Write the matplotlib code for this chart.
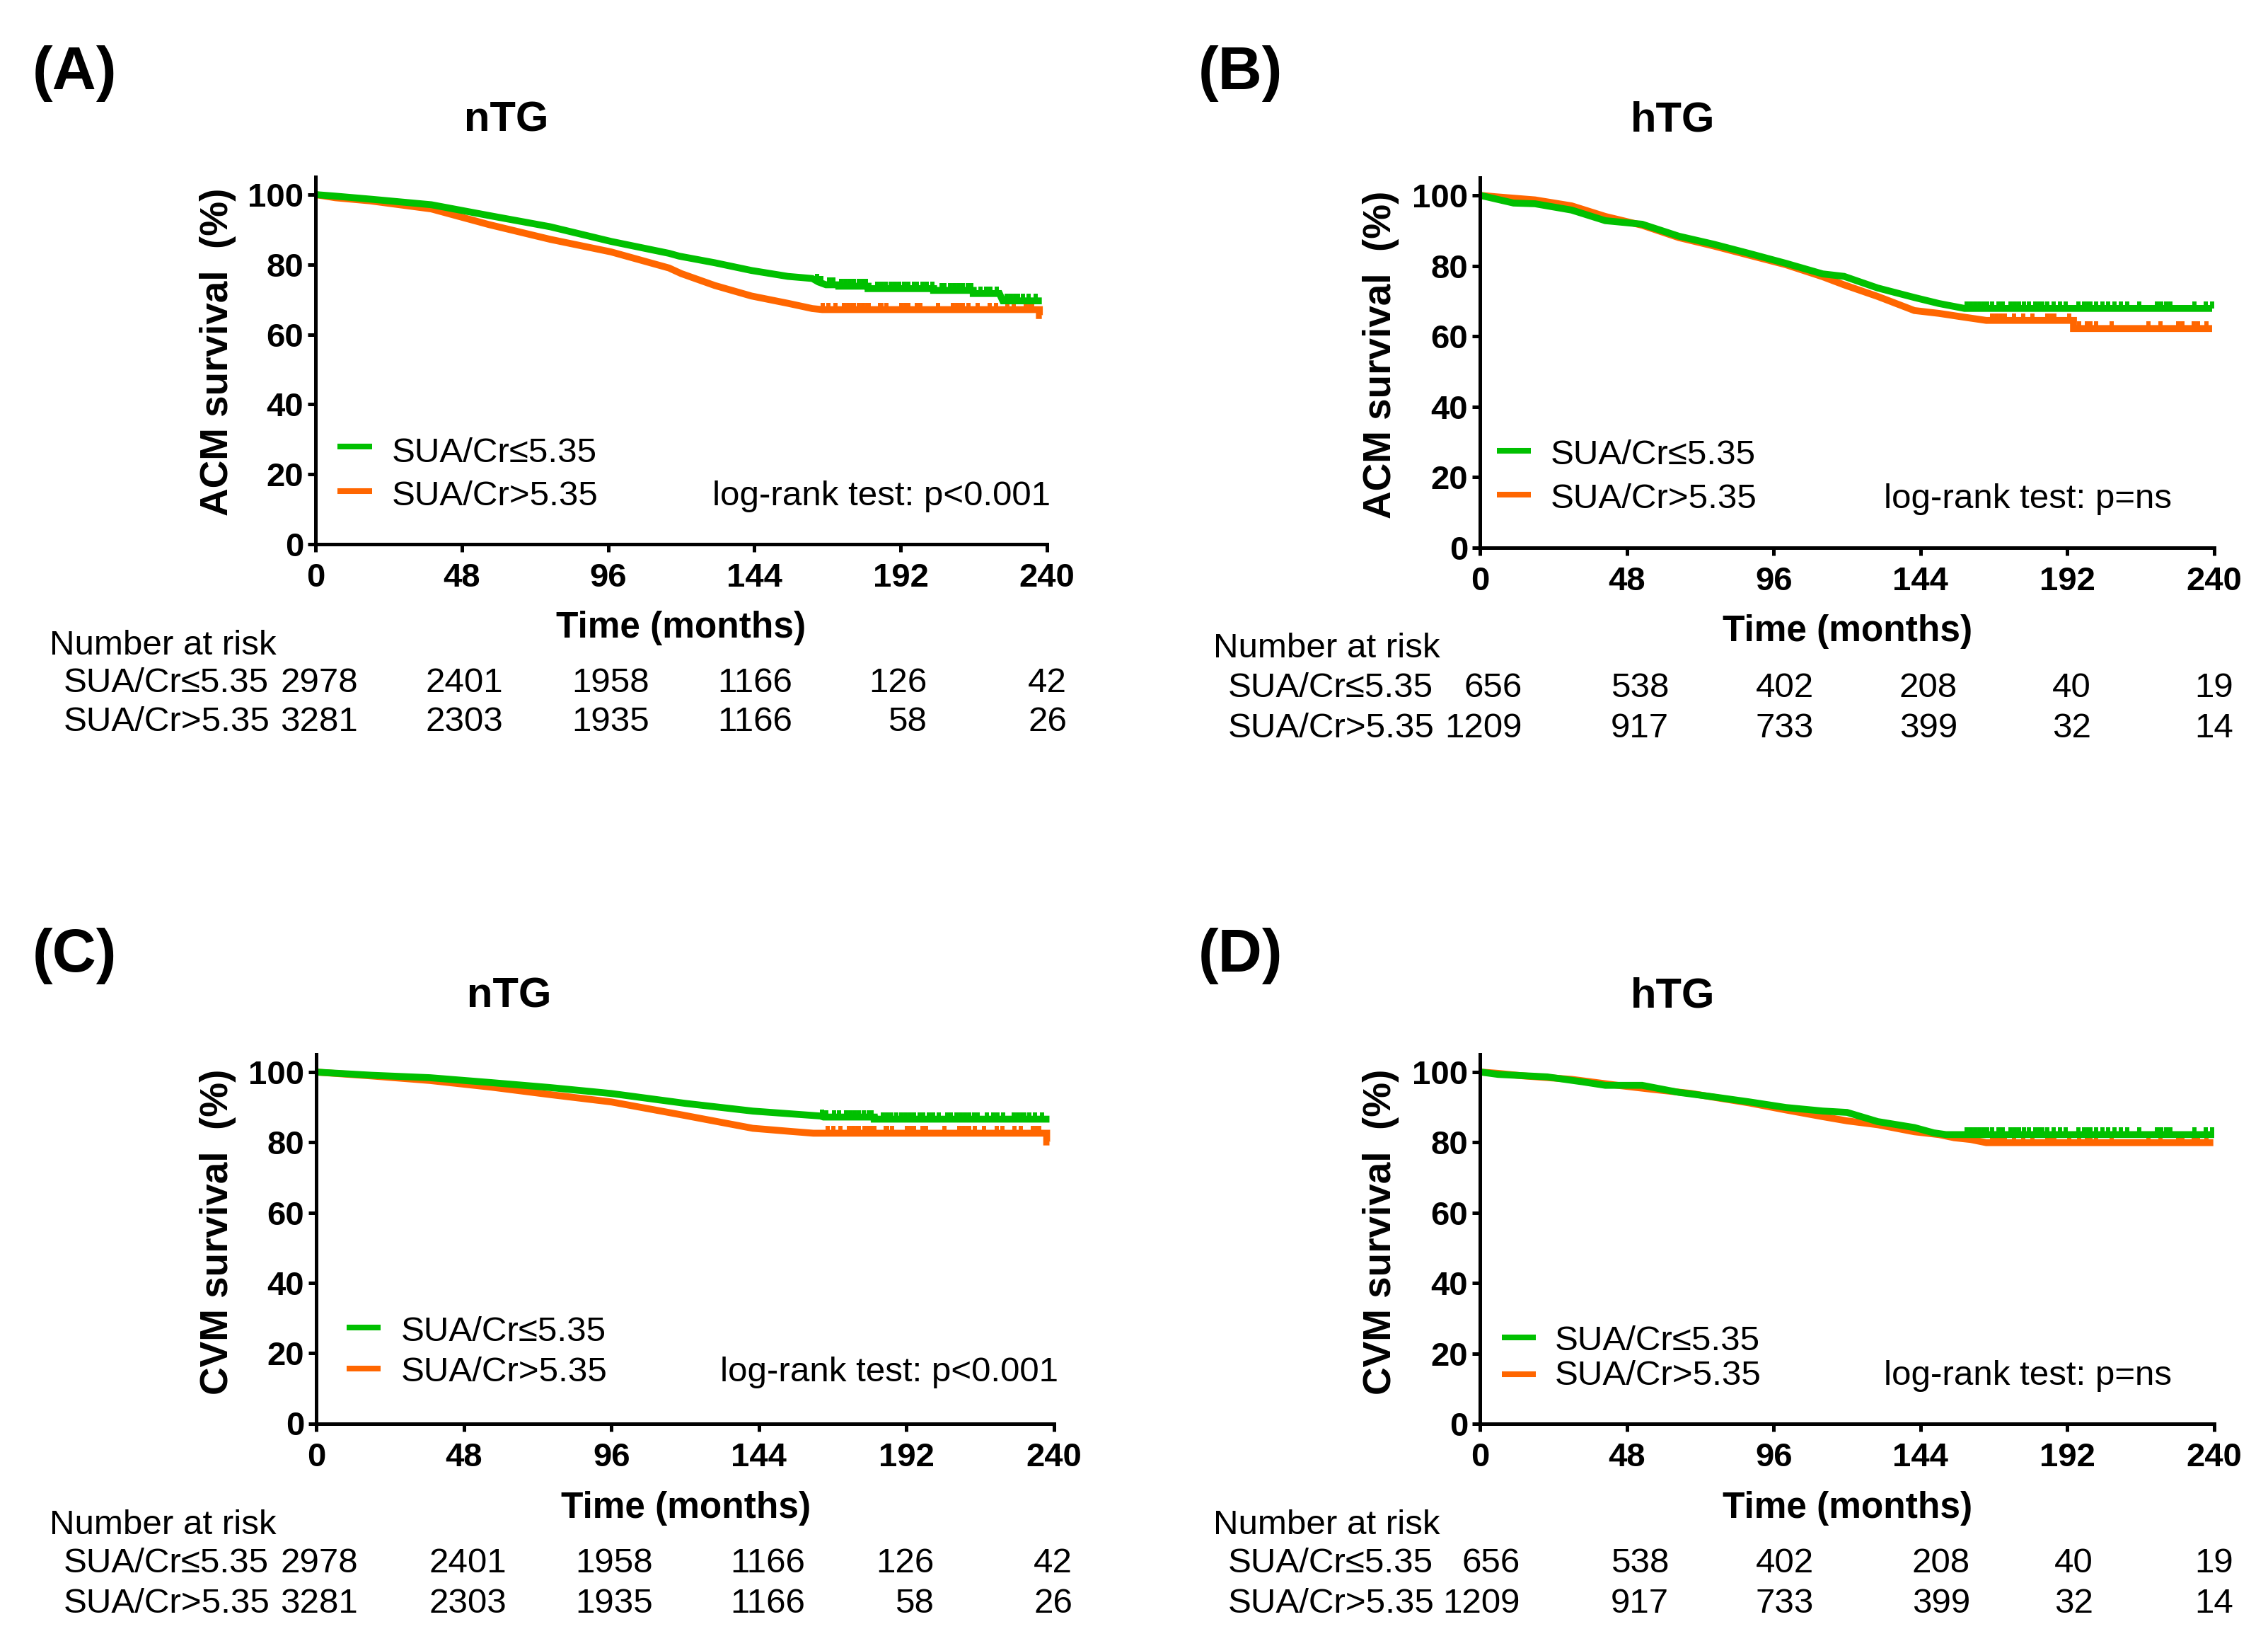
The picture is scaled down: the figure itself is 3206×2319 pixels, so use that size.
import matplotlib
matplotlib.use("Agg")
import numpy as np
import matplotlib.pyplot as plt
from matplotlib.lines import Line2D

W, H, DPI = 3206, 2319, 100
plt.rcParams['font.family'] = ['Liberation Sans', 'DejaVu Sans']

GREEN = '#00C000'
ORANGE = '#FF6600'

# ---------------- data ----------------
group_labels = ['SUA/Cr\u22645.35', 'SUA/Cr>5.35']
panel_letters = ['(A)', '(B)', '(C)', '(D)']
panel_titles = ['nTG', 'hTG', 'nTG', 'hTG']
y_labels = ['ACM survival  (%)', 'ACM survival  (%)', 'CVM survival  (%)', 'CVM survival  (%)']
logrank_texts = ['log-rank test: p<0.001', 'log-rank test: p=ns',
                 'log-rank test: p<0.001', 'log-rank test: p=ns']
x_ticks = [0, 48, 96, 144, 192, 240]
y_ticks = [0, 20, 40, 60, 80, 100]
risk_title = 'Number at risk'

# (A) nTG, all-cause mortality
A_low_t = [0, 6, 18, 38, 57, 77, 97, 116, 119.3, 131, 143, 155, 163, 165, 167.5, 171.7, 171.7,
           181.3, 181.3, 202.8, 202.8, 215.8, 215.8, 224.4, 225.5, 238.3]
A_low_s = [100, 99.6, 98.7, 97.1, 94.0, 90.8, 86.6, 83.2, 82.4, 80.5, 78.3, 76.6, 76.0, 75.0, 74.2, 74.2, 73.8,
           73.8, 73.1, 73.1, 72.6, 72.6, 71.7, 71.7, 69.6, 69.6]
A_high_t = [0, 6.5, 18, 38, 57, 77, 97, 116, 120, 131, 143, 155, 163, 166.3, 237.5, 237.5, 238.3]
A_high_s = [100, 99.1, 98.2, 95.9, 91.4, 87.2, 83.6, 79.0, 77.4, 74.0, 71.0, 68.9, 67.4, 67.1, 67.1, 65.4, 65.4]

# (B) hTG, all-cause mortality
B_low_t = [0, 5, 11, 18, 30, 41, 53, 65, 76.5, 88, 100, 112, 119, 130, 142, 150, 158.4, 239.3]
B_low_s = [100, 99.0, 97.8, 97.6, 95.8, 92.8, 91.8, 88.4, 86.1, 83.5, 80.7, 77.7, 77.0, 73.7, 71.0, 69.3, 67.9, 67.9]
B_high_t = [0, 5, 18, 30, 41, 53, 65, 76.5, 88, 100, 112, 119, 130, 142, 150, 157.6, 165.5, 194, 194, 239.3]
B_high_s = [100, 99.6, 98.7, 97.0, 94.0, 91.5, 88.0, 85.6, 83.0, 80.3, 76.9, 74.6, 71.3, 67.3, 66.5, 65.5, 64.5,
            64.5, 62.2, 62.2]

# (C) nTG, cardiovascular mortality
C_low_t = [0, 18, 37, 57, 76, 96, 120, 142, 164, 165, 181.5, 181.5, 238.5]
C_low_s = [100, 99.1, 98.4, 97.0, 95.6, 93.9, 91.1, 88.9, 87.5, 87.2, 87.2, 86.6, 86.6]
C_high_t = [0, 18, 37, 57, 76, 96, 119, 142, 154.5, 161.7, 237.6, 237.6, 238.5]
C_high_s = [100, 98.9, 97.6, 95.7, 93.6, 91.5, 87.8, 84.0, 83.1, 82.6, 82.6, 80.1, 80.1]

# (D) hTG, cardiovascular mortality
D_low_t = [0, 6, 22, 33.5, 41, 53, 65, 76.5, 88, 100, 112, 120, 130, 142, 148.3, 152.3, 240]
D_low_s = [100, 99.3, 98.6, 97.2, 96.2, 96.2, 94.2, 92.9, 91.5, 89.9, 88.9, 88.5, 85.9, 84.2, 82.7, 82.2, 82.2]
D_high_t = [0, 6, 14, 30, 45, 57, 69, 76.5, 88, 100, 112, 120, 130, 142, 150, 155, 160.4, 165.5, 239.7]
D_high_s = [100, 99.6, 98.9, 97.9, 96.2, 95.0, 93.9, 92.8, 91.2, 89.2, 87.3, 86.1, 85.0, 83.0, 82.2, 81.3, 80.8,
            79.9, 79.9]

# censoring times (months) on the late part of the curves
nTG_low_cens = [164.5, 166.0, 168.5, 170.0,
                172.4, 173.8, 175.2, 176.6, 178.2, 179.6, 180.6, 184.3, 185.7, 187.1, 188.6, 190.2, 191.6,
                193.0, 194.4, 196.3, 197.4, 199.2, 200.6, 202.5, 205.3, 206.4, 208.2, 209.6, 211.0, 212.3,
                214.1, 215.2, 218.2, 220.1, 221.5, 223.5, 226.8, 228.2, 229.6, 230.4, 232.0, 233.9, 236.2]
nTG_high_cens = [166.4, 168.2, 170.5, 173.3, 174.7, 176.1, 176.6, 178.3, 179.7, 181.1, 181.5, 185.3, 185.7,
                 187.4, 192.2, 193.6, 194.4, 197.3, 198.4, 204.3, 209.1, 210.5, 211.9, 212.3, 214.2, 217.3,
                 221.3, 223.3, 227.0, 229.1, 233.0, 234.4, 235.2]
hTG_low_cens = [159.1, 160.5, 161.9, 163.3, 164.7, 165.7, 167.5, 169.5, 170.8, 173.4, 174.8, 176.2, 177.7,
                179.4, 181.5, 182.9, 183.7, 185.5, 187.5, 189.5, 191.5, 195.5, 197.4, 198.8, 199.6, 201.4,
                203.4, 205.4, 207.4, 209.4, 211.5, 215.4, 221.3, 222.6, 224.2, 225.6, 233.5, 237.3, 239.3]
hTG_high_cens = [167.3, 168.7, 170.1, 171.5, 174.5, 177.5, 180.5, 185.4, 186.8, 187.7, 192.6, 195.8, 198.4,
                 199.6, 201.4, 206.4, 218.4, 222.4, 228.1, 229.5, 233.3, 234.6, 237.4]

# numbers at risk
nTG_low_risk = [2978, 2401, 1958, 1166, 126, 42]
nTG_high_risk = [3281, 2303, 1935, 1166, 58, 26]
hTG_low_risk = [656, 538, 402, 208, 40, 19]
hTG_high_risk = [1209, 917, 733, 399, 32, 14]

curves = [((A_low_t, A_low_s, nTG_low_cens), (A_high_t, A_high_s, nTG_high_cens)),
          ((B_low_t, B_low_s, hTG_low_cens), (B_high_t, B_high_s, hTG_high_cens)),
          ((C_low_t, C_low_s, nTG_low_cens), (C_high_t, C_high_s, nTG_high_cens)),
          ((D_low_t, D_low_s, hTG_low_cens), (D_high_t, D_high_s, hTG_high_cens))]
risks = [(nTG_low_risk, nTG_high_risk), (hTG_low_risk, hTG_high_risk),
         (nTG_low_risk, nTG_high_risk), (hTG_low_risk, hTG_high_risk)]

# ---------------- layout (pixels) ----------------
layout = [
    dict(ax=(446, 1480, 250.3, 769), letter=(46, 126), title=(716, 185), ylab=(308, 497), xlab=(963, 901),
         hx=(477, 526), hy=(631, 694), tx=554, tb=(653, 714), lr=1485,
         nl=70, rl=90, nb=(925, 978, 1033), cols=[506, 711, 918, 1120, 1310, 1508]),
    dict(ax=(2092, 3130, 251.1, 774), letter=(1694, 126), title=(2365, 185), ylab=(1952, 501), xlab=(2612, 906),
         hx=(2116, 2164), hy=(637, 699), tx=2192, tb=(656, 718), lr=3070,
         nl=1715, rl=1736, nb=(929, 985, 1042), cols=[2152, 2359, 2564, 2767, 2956, 3157]),
    dict(ax=(447, 1490, 1490.2, 2011.5), letter=(46, 1373), title=(720, 1424), ylab=(308, 1741), xlab=(970, 2145),
         hx=(490, 538), hy=(1876, 1934), tx=567, tb=(1895, 1952), lr=1496,
         nl=70, rl=90, nb=(2168, 2222, 2279), cols=[506, 716, 923, 1138, 1320, 1516]),
    dict(ax=(2092, 3130, 1490, 2012), letter=(1694, 1373), title=(2365, 1424), ylab=(1952, 1741), xlab=(2612, 2145),
         hx=(2123, 2171), hy=(1890, 1942), tx=2198, tb=(1908, 1957), lr=3070,
         nl=1715, rl=1736, nb=(2168, 2222, 2279), cols=[2149, 2359, 2564, 2785, 2959, 3157]),
]

fig = plt.figure(figsize=(W / DPI, H / DPI), dpi=DPI)


def fx(x):
    return x / W


def fy(y):
    return 1 - y / H


def ftext(x, y, s, **kw):
    fig.text(fx(x), fy(y), s, **kw)


LW = 7.0
HLW = 5.8
for i in range(4):
    L = layout[i]
    x0, x1, ytop, ybot = L['ax']
    ax = fig.add_axes([fx(x0), fy(ybot), (x1 - x0) / W, (ybot - ytop) / H])
    ax.set_xlim(0, 240)
    ax.set_ylim(0, 105)
    for sp in ['top', 'right']:
        ax.spines[sp].set_visible(False)
    for sp in ['left', 'bottom']:
        ax.spines[sp].set_linewidth(3.6)
    ax.set_xticks(x_ticks)
    ax.set_yticks(y_ticks)
    ax.tick_params(direction='out', length=8, width=3.6, labelsize=34)
    ax.tick_params(axis='x', pad=11)
    ax.tick_params(axis='y', pad=4)
    for lbl in ax.get_xticklabels() + ax.get_yticklabels():
        lbl.set_fontweight('bold')

    (lo, hi) = curves[i]
    for (t, s, cens), col in [(hi, ORANGE), (lo, GREEN)]:
        t = np.asarray(t, float)
        s = np.asarray(s, float)
        ax.plot(t, s, color=col, lw=LW, solid_joinstyle='miter', solid_capstyle='butt', clip_on=False)
        c = np.asarray(cens, float)
        c = c[c <= t[-1]]
        ax.plot(c, np.interp(c, t, s), ls='none', marker=2, ms=7.5, mew=4.3, color=col, clip_on=False)

    # texts
    ftext(L['letter'][0], L['letter'][1], panel_letters[i], fontsize=62, fontweight='bold',
          ha='left', va='baseline')
    ftext(L['title'][0], L['title'][1], panel_titles[i], fontsize=43, fontweight='bold',
          ha='center', va='baseline')
    ftext(L['ylab'][0], L['ylab'][1], y_labels[i], fontsize=39.5, fontweight='bold',
          rotation=90, ha='center', va='center')
    ftext(L['xlab'][0], L['xlab'][1], 'Time (months)', fontsize=37, fontweight='bold',
          ha='center', va='baseline')

    # legend
    for k, col in enumerate([GREEN, ORANGE]):
        fig.add_artist(Line2D([fx(L['hx'][0]), fx(L['hx'][1])], [fy(L['hy'][k])] * 2,
                              transform=fig.transFigure, color=col, lw=HLW, solid_capstyle='butt'))
        ftext(L['tx'], L['tb'][k], group_labels[k], fontsize=35.5, ha='left', va='baseline')
    ftext(L['lr'], L['tb'][1], logrank_texts[i], fontsize=35.5, ha='right', va='baseline')

    # number at risk
    ftext(L['nl'], L['nb'][0], risk_title, fontsize=35.5, ha='left', va='baseline')
    for k in range(2):
        ftext(L['rl'], L['nb'][k + 1], group_labels[k], fontsize=35.5, ha='left', va='baseline')
        for j, v in enumerate(risks[i][k]):
            ftext(L['cols'][j], L['nb'][k + 1], str(v), fontsize=35.5, ha='right', va='baseline')

fig.savefig('out.png', dpi=DPI, facecolor='white')
